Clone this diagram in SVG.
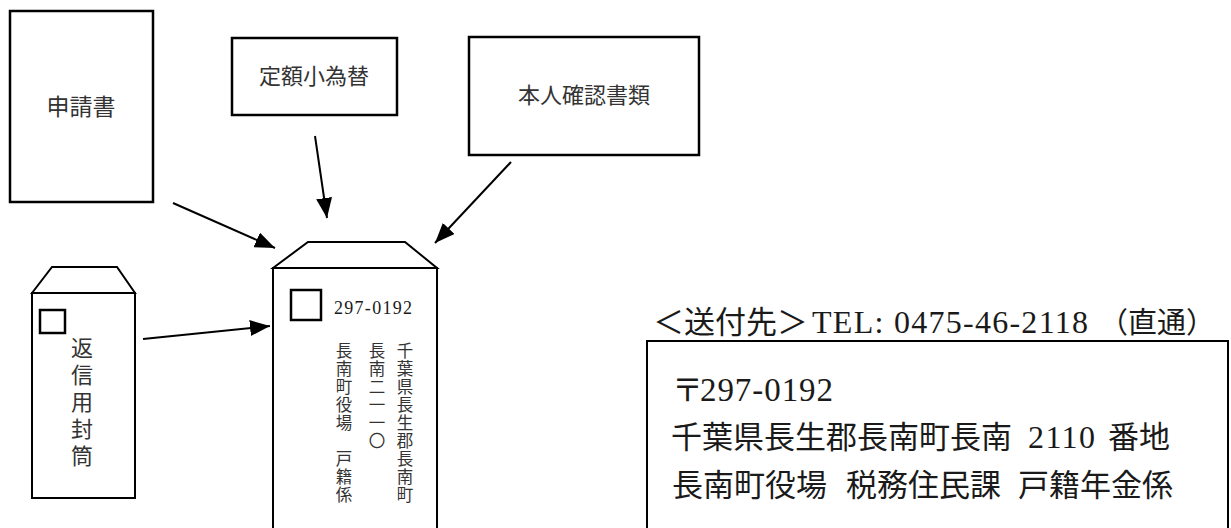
<svg xmlns="http://www.w3.org/2000/svg" width="1231" height="528" viewBox="0 0 1231 528">
<style>
.box{fill:#fff;stroke:#000;stroke-width:2.5}
.env{fill:#fff;stroke:#000;stroke-width:2}
.g{font-family:"Noto Sans CJK JP",sans-serif;fill:#333}
.m{font-family:"Liberation Serif","Noto Sans CJK JP",serif;fill:#1a1a1a}
.c{text-anchor:middle}
.arr{stroke:#000;stroke-width:2;fill:none;marker-end:url(#ah)}
</style>
<defs>
<marker id="ah" markerUnits="userSpaceOnUse" markerWidth="20" markerHeight="16" refX="20" refY="8" orient="auto">
<path d="M0,0 L20,8 L0,16 z" fill="#000"/>
</marker>
</defs>
<rect width="1231" height="528" fill="#fff"/>

<g id="shinseisho">
<rect class="box" x="10" y="11" width="143" height="191"/>
<text class="g c" x="81" y="115" font-size="23">申請書</text>
</g>

<g id="teigaku">
<rect class="box" x="232" y="38" width="165" height="77"/>
<text class="g c" x="314" y="84" font-size="22">定額小為替</text>
</g>

<g id="honnin">
<rect class="box" x="469" y="37" width="230" height="118"/>
<text class="g c" x="584" y="103" font-size="22">本人確認書類</text>
</g>

<g id="henshin">
<path class="env" d="M32,293 L52,267 L117,267 L135,293 Z"/>
<rect class="env" x="32" y="293" width="103" height="205"/>
<rect x="40" y="310" width="25" height="23" fill="none" stroke="#000" stroke-width="2.5"/>
<text class="g c" font-size="22"><tspan x="82" y="356">返</tspan><tspan x="82" y="383">信</tspan><tspan x="82" y="410">用</tspan><tspan x="82" y="437">封</tspan><tspan x="82" y="464">筒</tspan></text>
</g>

<g id="envelope">
<path class="env" d="M273,268 L308,242 L405,242 L437,268 Z"/>
<rect class="env" x="273" y="268" width="164" height="270"/>
<rect x="291" y="290" width="30" height="30" fill="none" stroke="#000" stroke-width="2.5"/>
<text class="m" x="334" y="314" font-size="18" textLength="78">297-0192</text>
<text class="g c" font-size="16.5"><tspan x="405" y="357">千</tspan><tspan x="405" y="375">葉</tspan><tspan x="405" y="393">県</tspan><tspan x="405" y="411">長</tspan><tspan x="405" y="429">生</tspan><tspan x="405" y="447">郡</tspan><tspan x="405" y="465">長</tspan><tspan x="405" y="483">南</tspan><tspan x="405" y="501">町</tspan></text>
<text class="g c" font-size="16.5"><tspan x="377" y="357">長</tspan><tspan x="377" y="375">南</tspan><tspan x="377" y="393">二</tspan><tspan x="377" y="411">一</tspan><tspan x="377" y="429">一</tspan><tspan x="377" y="447">〇</tspan></text>
<text class="g c" font-size="16.5"><tspan x="344" y="357">長</tspan><tspan x="344" y="375">南</tspan><tspan x="344" y="393">町</tspan><tspan x="344" y="411">役</tspan><tspan x="344" y="429">場</tspan><tspan x="344" y="465">戸</tspan><tspan x="344" y="483">籍</tspan><tspan x="344" y="501">係</tspan></text>
</g>

<g id="address">
<text class="m" y="333" font-size="30"><tspan x="653" font-size="31">＜送付先＞</tspan><tspan x="812" font-size="32" textLength="276">TEL: 0475-46-2118</tspan><tspan x="1099" font-size="29">（直通）</tspan></text>
<rect class="env" x="647" y="341" width="581" height="200"/>
<text class="m" y="401" font-size="31"><tspan x="672">〒</tspan><tspan x="700" font-size="33" textLength="133">297-0192</tspan></text>
<text class="m" y="448" font-size="31"><tspan x="671">千葉県長生郡長南町長南</tspan><tspan x="1028" font-size="32" textLength="67">2110</tspan><tspan x="1108">番地</tspan></text>
<text class="m" y="496" font-size="31"><tspan x="672">長南町役場</tspan><tspan x="846">税務住民課</tspan><tspan x="1018">戸籍年金係</tspan></text>
</g>

<g id="connectors">
<line class="arr" x1="173" y1="203" x2="275" y2="248"/>
<line class="arr" x1="315" y1="136" x2="327" y2="218"/>
<line class="arr" x1="511" y1="162" x2="435" y2="243"/>
<line class="arr" x1="143" y1="339" x2="270" y2="326"/>
</g>
</svg>
